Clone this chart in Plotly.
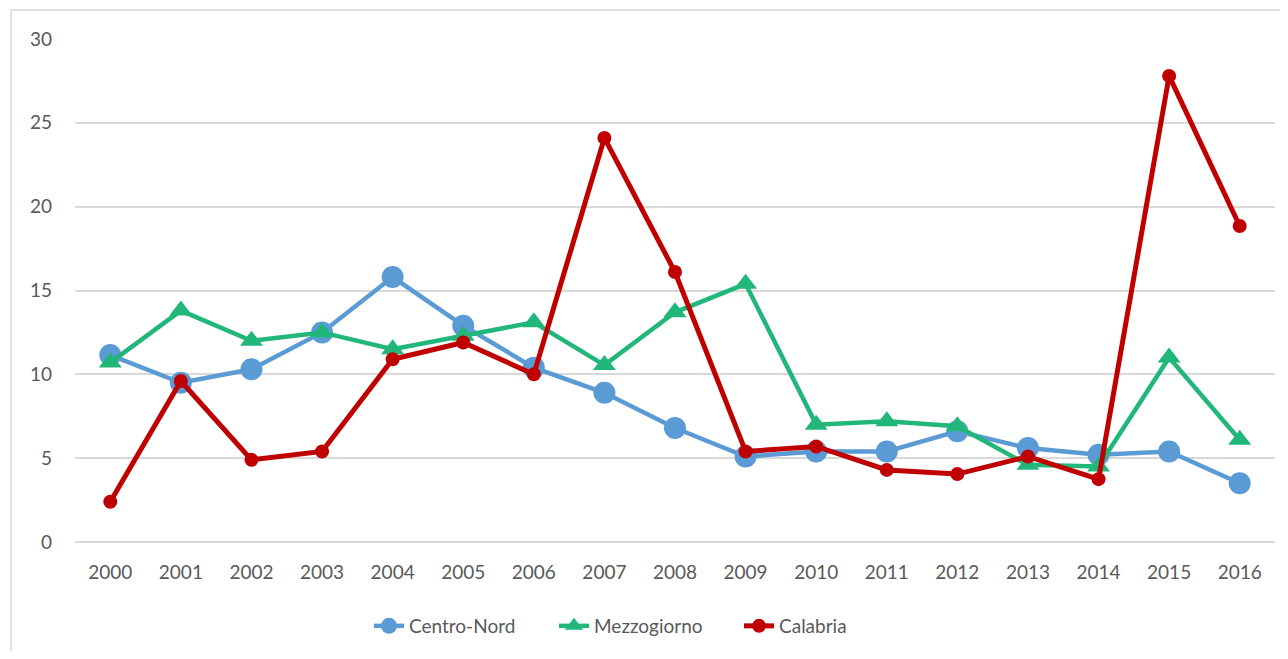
import plotly.graph_objects as go

years = [str(y) for y in range(2000, 2017)]
centro_nord = [11.15, 9.5, 10.3, 12.5, 15.8, 12.9, 10.4, 8.9, 6.8, 5.1, 5.4, 5.4, 6.6, 5.6, 5.2, 5.4, 3.5]
mezzogiorno = [10.7, 13.8, 12.0, 12.5, 11.5, 12.3, 13.1, 10.55, 13.7, 15.4, 7.0, 7.2, 6.9, 4.6, 4.5, 11.0, 6.1]
calabria = [2.4, 9.6, 4.9, 5.4, 10.9, 11.9, 10.0, 24.1, 16.1, 5.4, 5.7, 4.3, 4.05, 5.1, 3.75, 27.8, 18.85]

font_family = "Lato, 'Open Sans', sans-serif"
txt = "#595959"

fig = go.Figure()
fig.add_trace(go.Scatter(x=years, y=centro_nord, name="Centro-Nord", mode="lines+markers",
                         line=dict(color="#5B9BD5", width=4.5),
                         marker=dict(symbol="circle", size=22, color="#5B9BD5")))
fig.add_trace(go.Scatter(x=years, y=mezzogiorno, name="Mezzogiorno", mode="lines+markers",
                         line=dict(color="#22B77A", width=4.5),
                         marker=dict(symbol="triangle-up", size=20, color="#22B77A")))
fig.add_trace(go.Scatter(x=years, y=calabria, name="Calabria", mode="lines+markers",
                         line=dict(color="#C00000", width=5),
                         marker=dict(symbol="circle", size=14, color="#C00000")))

fig.update_layout(
    width=1272, height=643,
    margin=dict(l=67, r=5, t=31, b=109),
    paper_bgcolor="white", plot_bgcolor="white",
    font=dict(family=font_family, size=19, color=txt),
    showlegend=True,
    legend=dict(orientation="h", x=0.245, xanchor="left", y=-0.167, yanchor="middle",
                font=dict(size=19, color=txt), entrywidth=140),
    shapes=[dict(type="rect", xref="paper", yref="paper",
                 x0=-0.0533, x1=1.05, y0=-0.4, y1=1.0577,
                 line=dict(color="#D9D9D9", width=1.5), fillcolor="rgba(0,0,0,0)", layer="below")],
)
fig.update_xaxes(type="category", range=[-0.5, 16.5], showgrid=False, showline=False,
                 ticks="", tickfont=dict(size=19, color=txt), ticklabelstandoff=17)
fig.update_yaxes(range=[0, 30], dtick=5, showgrid=True, gridcolor="#D9D9D9", gridwidth=1.5,
                 zeroline=True, zerolinecolor="#D9D9D9", zerolinewidth=1.5, showline=False,
                 tickfont=dict(size=19, color=txt), ticklabelstandoff=22)

fig.write_html("out.html")
